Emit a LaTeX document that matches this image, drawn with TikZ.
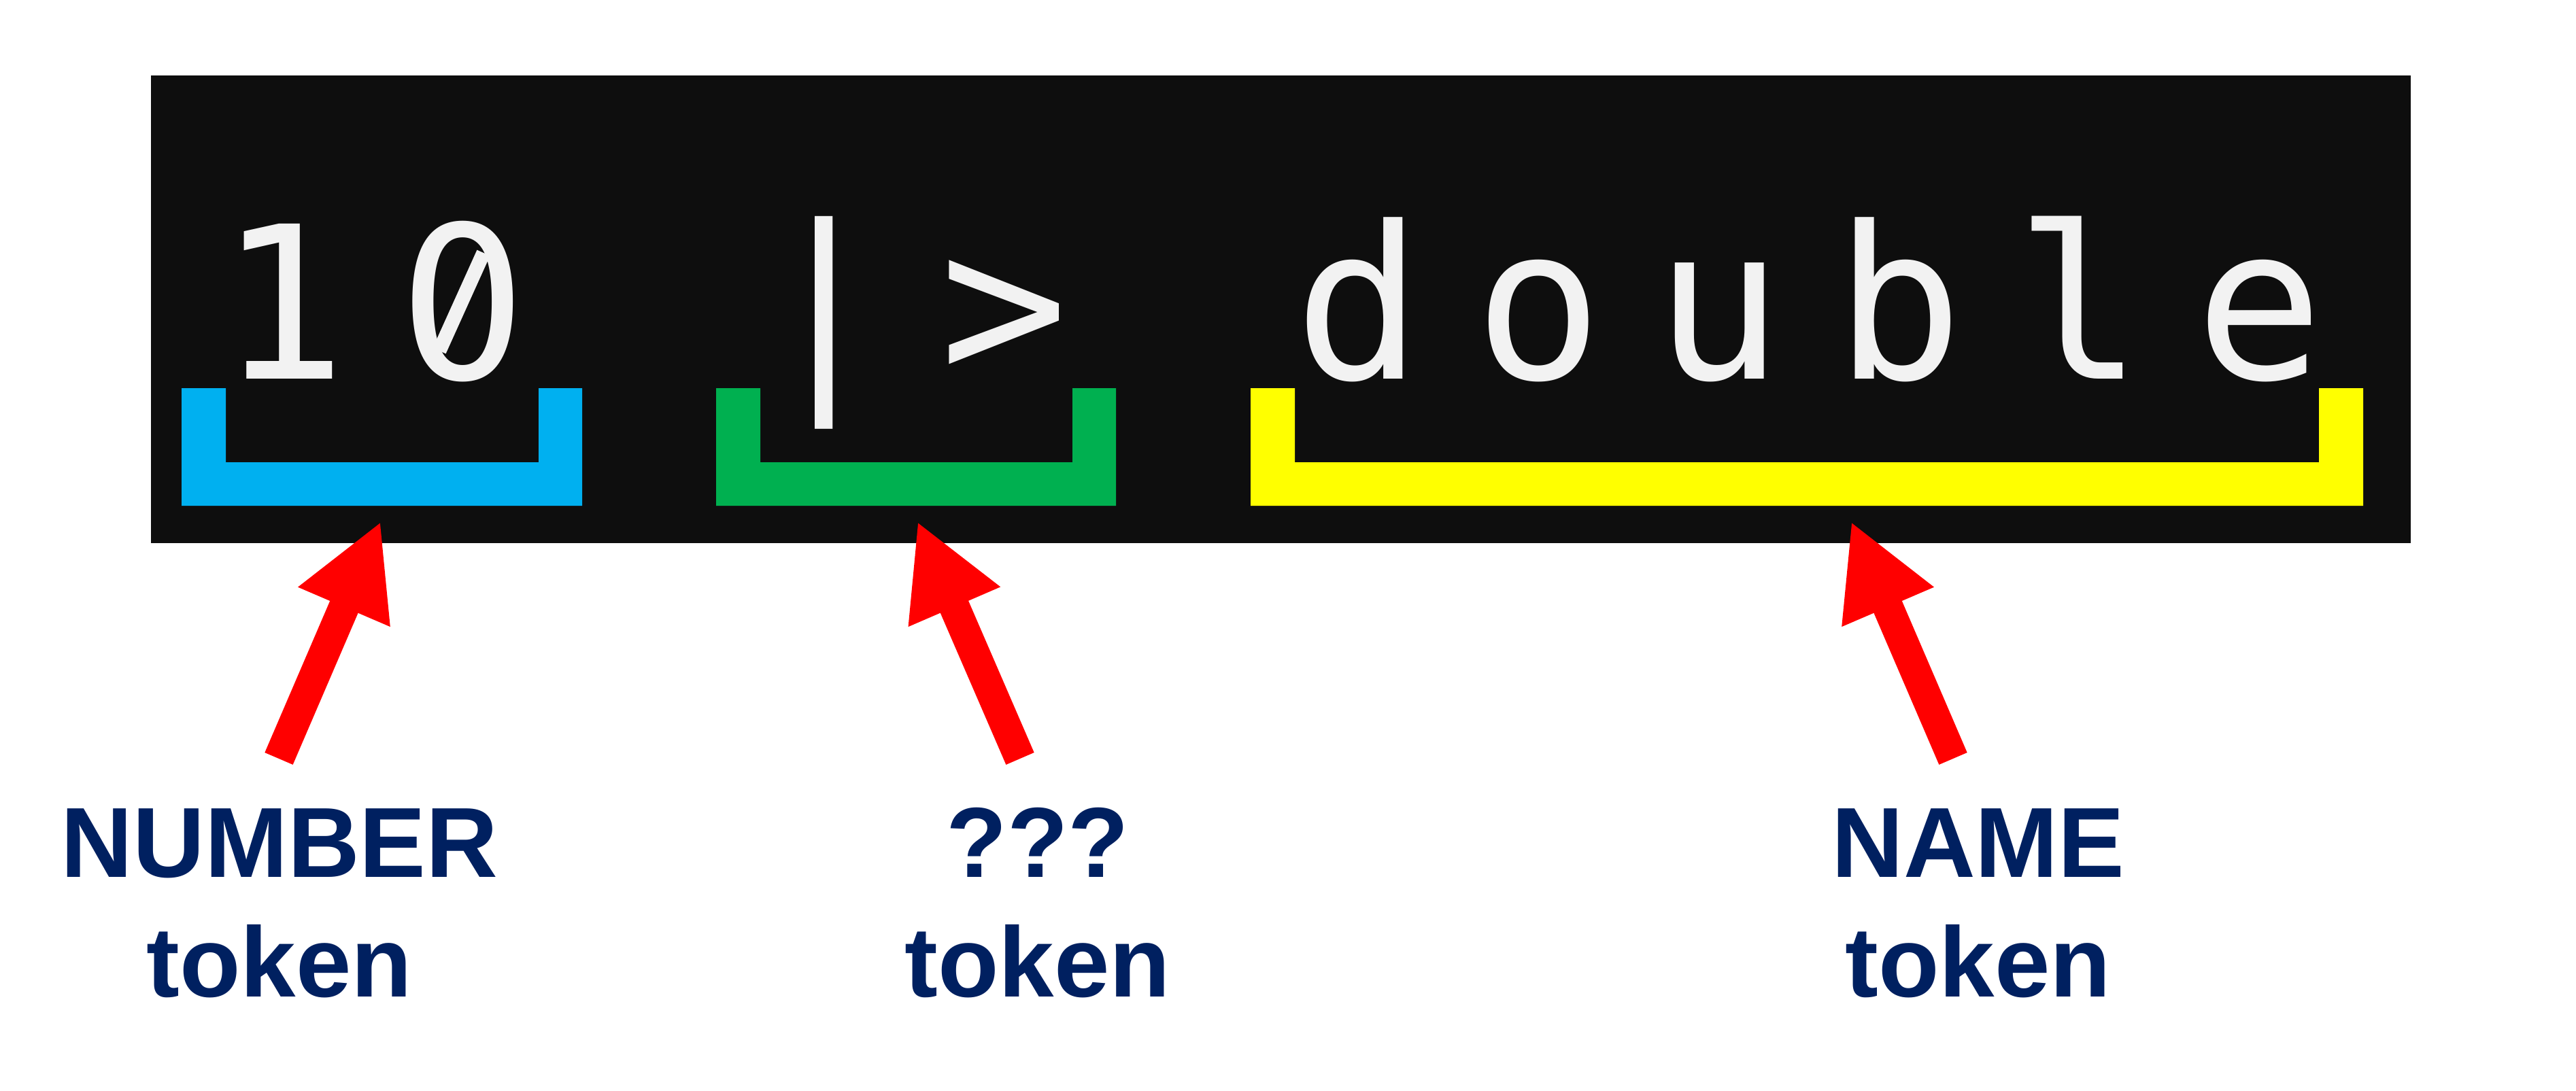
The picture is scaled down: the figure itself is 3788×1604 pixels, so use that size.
\documentclass[tikz,border=0pt]{standalone}
\usepackage{fontspec}
\setmainfont{Liberation Sans}
\newfontfamily\codefont{DejaVu Sans Mono}[LetterSpace=24.5]
\usetikzlibrary{arrows.meta}
\definecolor{termbg}{HTML}{0E0E0E}
\definecolor{glyph}{HTML}{F2F2F2}
\definecolor{numblue}{HTML}{00B0F0}
\definecolor{opgreen}{HTML}{00B050}
\definecolor{nameyellow}{HTML}{FFFF00}
\definecolor{labelnavy}{HTML}{002060}
\begin{document}
\begin{tikzpicture}[x=0.2pt,y=-0.2pt,
  code/.style={font=\codefont\fontsize{62.6pt}{70pt}\selectfont, text=glyph, inner sep=0pt, anchor=base west},
  tokenlabel/.style={font=\bfseries\fontsize{29.3pt}{35.2pt}\selectfont, text=labelnavy, align=center, inner sep=0pt, anchor=base},
  pointer/.style={draw=red, line width=9pt, -{Triangle[length=27.4pt,width=27.4pt]}}
]
% canvas
\useasboundingbox (0,0) rectangle (3788,1604);
\fill[white] (0,0) rectangle (3788,1604);
% terminal panel
\fill[termbg] (222,111) rectangle (3545,799);

% source text
\node[code] (num) at (320,557) {10};
\node[code] (pipe) at (1116,557) {|>};
\node[code] (name) at (1902,557) {double};
% slashed zero: hide the centre dot, draw the diagonal stroke
\fill[termbg] (678,444) ellipse [x radius=5pt, y radius=7pt];
\draw[glyph, line width=4.2pt] (711,372) -- (646,516);

% token brackets
\fill[numblue] (267,571) -- (332,571) -- (332,680) -- (792,680) -- (792,571)
  -- (856,571) -- (856,744) -- (267,744) -- cycle;
\fill[opgreen] (1053,571) -- (1118,571) -- (1118,680) -- (1577,680) -- (1577,571)
  -- (1641,571) -- (1641,744) -- (1053,744) -- cycle;
\fill[nameyellow] (1839,571) -- (1904,571) -- (1904,680) -- (3410,680) -- (3410,571)
  -- (3475,571) -- (3475,744) -- (1839,744) -- cycle;

% labels (anchored on the baseline of the last line)
\node[tokenlabel] (numlabel) at (411,1466) {NUMBER\\token};
\node[tokenlabel] (oplabel) at (1526,1466) {???\\token};
\node[tokenlabel] (namelabel) at (2909,1466) {NAME\\token};

% pointers
\coordinate (numtail) at (410,1116);
\coordinate (numtip) at (560,767);
\coordinate (optail) at (1500,1116);
\coordinate (optip) at (1349,767);
\coordinate (nametail) at (2872,1116);
\coordinate (nametip) at (2722,767);
\draw[pointer] (numtail) -- (numtip);
\draw[pointer] (optail) -- (optip);
\draw[pointer] (nametail) -- (nametip);
\end{tikzpicture}
\end{document}
